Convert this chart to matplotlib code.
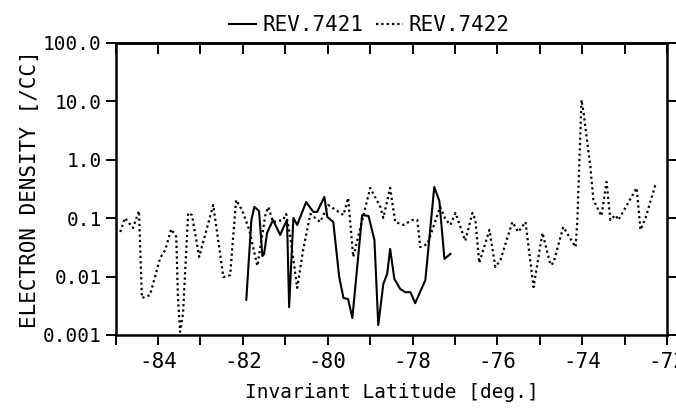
import matplotlib
matplotlib.use("Agg")
import matplotlib.pyplot as plt
from matplotlib.ticker import FixedLocator, MultipleLocator, NullLocator

# REV.7421 (solid)
lat_7421 = [-81.92, -81.80, -81.73, -81.62, -81.54, -81.50, -81.43, -81.29, -81.12, -81.05,
            -80.96, -80.91, -80.81, -80.72, -80.51, -80.34, -80.25, -80.08, -80.01, -79.87,
            -79.73, -79.63, -79.52, -79.42, -79.19, -79.04, -78.90, -78.81, -78.69, -78.60,
            -78.53, -78.43, -78.29, -78.17, -78.05, -77.94, -77.70, -77.49, -77.37, -77.25,
            -77.11]
ne_7421 = [0.0040, 0.093, 0.156, 0.133, 0.0225, 0.0244, 0.056, 0.093, 0.0516, 0.068,
           0.093, 0.0030, 0.101, 0.0765, 0.189, 0.128, 0.128, 0.231, 0.105, 0.086,
           0.0098, 0.0043, 0.0041, 0.00195, 0.113, 0.109, 0.0424, 0.00148, 0.0075, 0.0111,
           0.0297, 0.0091, 0.0061, 0.0054, 0.0054, 0.0035, 0.0087, 0.342, 0.197, 0.020,
           0.0244]

# REV.7422 (dotted)
lat_7422 = [-84.89, -84.78, -84.59, -84.45, -84.38, -84.19, -83.95, -83.83, -83.69, -83.57,
            -83.53, -83.48, -83.41, -83.29, -83.20, -83.03, -82.70, -82.46, -82.30, -82.16,
            -82.02, -81.85, -81.66, -81.47, -81.40, -81.29, -81.05, -80.98, -80.88, -80.72,
            -80.58, -80.41, -80.18, -79.99, -79.63, -79.52, -79.40, -79.00, -78.76, -78.69,
            -78.53, -78.41, -78.22, -78.01, -77.89, -77.82, -77.65, -77.35, -77.23, -77.11,
            -76.99, -76.76, -76.59, -76.52, -76.43, -76.19, -76.05, -75.93, -75.65, -75.51,
            -75.34, -75.15, -74.94, -74.75, -74.68, -74.45, -74.16, -74.12, -74.02, -73.97,
            -73.93, -73.81, -73.74, -73.55, -73.43, -73.41, -73.34, -73.22, -73.15, -72.72,
            -72.63, -72.51, -72.28]
ne_7422 = [0.058, 0.101, 0.068, 0.133, 0.0043, 0.0048, 0.0208, 0.0285, 0.065, 0.048,
           0.0043, 0.00113, 0.00238, 0.123, 0.113, 0.0217, 0.168, 0.0098, 0.0106, 0.205,
           0.138, 0.063, 0.0152, 0.113, 0.156, 0.086, 0.093, 0.118, 0.0458, 0.0064,
           0.0285, 0.118, 0.086, 0.168, 0.113, 0.222, 0.0217, 0.329, 0.156, 0.101,
           0.329, 0.086, 0.0765, 0.093, 0.093, 0.032, 0.036, 0.156, 0.097, 0.0765,
           0.123, 0.041, 0.123, 0.093, 0.0171, 0.063, 0.0146, 0.0192, 0.086, 0.058,
           0.086, 0.0066, 0.056, 0.0158, 0.0171, 0.0707, 0.032, 0.083, 10.6, 6.3,
           3.65, 0.75, 0.205, 0.109, 0.417, 0.304, 0.093, 0.113, 0.093, 0.329,
           0.063, 0.101, 0.37]

y_ticks = [0.001, 0.01, 0.1, 1.0, 10.0, 100.0]
y_labels = ["0.001", "0.01", "0.1", "1.0", "10.0", "100.0"]
x_ticks = [-84, -82, -80, -78, -76, -74, -72]
x_labels = ["-84", "-82", "-80", "-78", "-76", "-74", "-72"]

plt.rcParams['font.family'] = ['DejaVu Sans Mono', 'DejaVu Sans']

fig = plt.figure(figsize=(6.76, 4.09), dpi=100)
ax = fig.add_axes([0.171, 0.181, 0.816, 0.714])

ax.plot(lat_7421, ne_7421, color='black', lw=1.5, label='REV.7421')
ax.plot(lat_7422, ne_7422, color='black', lw=1.6, linestyle=(0, (1, 1.4)), label='REV.7422')

ax.set_yscale('log')
ax.set_xlim(-85, -72)
ax.set_ylim(0.001, 100.0)
ax.yaxis.set_major_locator(FixedLocator(y_ticks))
ax.yaxis.set_minor_locator(NullLocator())
ax.set_yticklabels(y_labels)
ax.xaxis.set_major_locator(FixedLocator(x_ticks))
ax.set_xticklabels(x_labels)
ax.xaxis.set_minor_locator(MultipleLocator(1))

for s in ax.spines.values():
    s.set_linewidth(1.8)

ax.tick_params(axis='x', which='both', direction='out', length=7, width=1.4,
               labelsize=15, pad=5, top=False)
ax.tick_params(axis='y', which='both', direction='out', length=7, width=1.4,
               labelsize=14, right=True, pad=3)

# ticks on the top edge point inward
top = ax.secondary_xaxis('top')
top.xaxis.set_major_locator(MultipleLocator(1))
top.tick_params(direction='in', length=8, width=1.4, labeltop=False)
top.spines['top'].set_linewidth(1.8)

ax.set_xlabel('Invariant Latitude [deg.]', fontsize=14, labelpad=8)
ax.set_ylabel('ELECTRON DENSITY [/CC]', fontsize=15, labelpad=2)

ax.legend(loc='lower center', bbox_to_anchor=(0.46, 0.99), ncol=2, frameon=False,
          fontsize=15, handlelength=1.3, handletextpad=0.3, columnspacing=0.6,
          borderaxespad=0.1)

fig.savefig('out.png', dpi=100)
